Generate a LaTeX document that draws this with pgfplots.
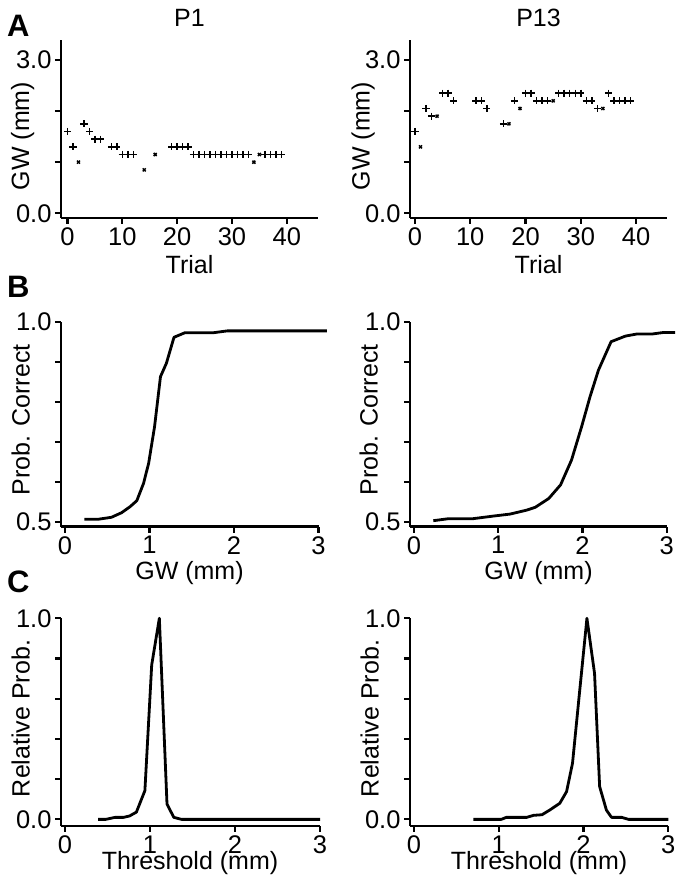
\documentclass[border=0pt]{standalone}
\usepackage{fontspec}
\setmainfont{Liberation Sans}
\usepackage{pgfplots}
\pgfplotsset{compat=1.18}
\newcommand{\fs}{\fontsize{25bp}{29bp}\selectfont}
\newcommand{\ft}{\fontsize{25.5bp}{29bp}\selectfont}
\newcommand{\fl}{\fontsize{31bp}{34bp}\selectfont\bfseries}
\pgfplotsset{
  myaxis/.style={
    scale only axis, clip=false,
    axis x line=bottom, axis y line=left,
    axis line style={line width=2.5bp, -, black},
    tick align=outside, major tick length=6bp,
    tick style={line width=2.2bp, black},
    tick label style={font=\ft},
    /pgf/number format/assume math mode=true,
  },
  corr/.style={only marks, mark=+, mark size=3.6bp, mark options={line width=1.5bp}, black},
  wrong/.style={only marks, mark=x, mark size=2.1bp, mark options={line width=1.5bp}, black},
  curve/.style={no marks, line width=2.8bp, black, line join=round},
  axA/.style={myaxis, width=257bp, height=178bp, ymin=-0.092, ymax=3.39,
    xtick={0,10,20,30,40}, ytick={0,1,2,3}, yticklabels={0.0,,,3.0}},
  axB/.style={myaxis, height=205bp, xmin=-0.047, xmax=3.0, ymin=0.4875, ymax=1.0,
    xtick={0,1,2,3}, ytick={0.5,0.6,0.7,0.8,0.9,1.0}, yticklabels={0.5,,,,,1.0}},
  axC/.style={myaxis, height=207.7bp, xmin=-0.047, xmax=3.0, ymin=-0.033, ymax=1.0,
    xtick={0,1,2,3}, ytick={0,0.2,0.4,0.6,0.8,1.0}, yticklabels={0.0,,,,,1.0}},
}
\begin{document}
\begin{tikzpicture}
\useasboundingbox (0,0) rectangle (683bp,886bp);

% ---------- Panel A left (P1)
\begin{axis}[axA, at={(61bp,668bp)}, anchor=south west, xmin=-1.19, xmax=45.7]
\addplot[corr] coordinates {
(0,1.6)(1,1.3)(3,1.75)(4,1.6)(5,1.45)(6,1.45)(8,1.3)(9,1.3)
(10,1.15)(11,1.15)(12,1.15)(19,1.3)(20,1.3)(21,1.3)(22,1.3)
(23,1.15)(24,1.15)(25,1.15)(26,1.15)(27,1.15)(28,1.15)(29,1.15)(30,1.15)(31,1.15)(32,1.15)(33,1.15)
(36,1.15)(37,1.15)(38,1.15)(39,1.15)};
\addplot[wrong] coordinates {(2,1.0)(14,0.85)(16,1.15)(34,1.0)(35,1.15)};
\end{axis}

% ---------- Panel A right (P13)
\begin{axis}[axA, at={(410bp,668bp)}, anchor=south west, xmin=-0.9, xmax=45.6]
\addplot[corr] coordinates {
(0,1.6)(2,2.05)(3,1.9)(5,2.35)(6,2.35)(7,2.2)(11,2.2)(12,2.2)(13,2.05)
(16,1.75)(18,2.2)(20,2.35)(21,2.35)(22,2.2)(23,2.2)(24,2.2)
(26,2.35)(27,2.35)(28,2.35)(29,2.35)(30,2.35)(31,2.2)(32,2.2)(33,2.05)
(35,2.35)(36,2.2)(37,2.2)(38,2.2)(39,2.2)};
\addplot[wrong] coordinates {(1,1.3)(4,1.9)(17,1.75)(19,2.05)(25,2.2)(34,2.05)};
\end{axis}

% ---------- Panel B left
\begin{axis}[axB, at={(61bp,359.3bp)}, anchor=south west, width=257.5bp]
\addplot[curve] coordinates {
(0.23,0.506)(0.39,0.506)(0.55,0.511)(0.67,0.5225)(0.77,0.5375)(0.85,0.5525)
(0.93,0.596)(0.99,0.646)(1.06,0.7375)(1.13,0.8625)(1.20,0.896)(1.29,0.961)
(1.42,0.9725)(1.76,0.9725)(1.92,0.977)(3.1,0.977)};
\end{axis}

% ---------- Panel B right
\begin{axis}[axB, at={(410bp,359.3bp)}, anchor=south west, width=256.7bp]
\addplot[curve] coordinates {
(0.23,0.5025)(0.41,0.5075)(0.70,0.5075)(0.94,0.514)(1.14,0.519)(1.34,0.529)
(1.44,0.536)(1.60,0.558)(1.74,0.592)(1.87,0.654)(1.99,0.7375)(2.09,0.8125)
(2.19,0.879)(2.34,0.95)(2.51,0.964)(2.64,0.969)(2.82,0.969)(2.96,0.973)(3.10,0.973)};
\end{axis}

% ---------- Panel C left
\begin{axis}[axC, at={(61bp,60bp)}, anchor=south west, width=259bp]
\addplot[curve] coordinates {
(0.39,0)(0.48,0)(0.59,0.01)(0.69,0.01)(0.76,0.017)(0.84,0.036)(0.94,0.143)
(1.02,0.768)(1.11,1.0)(1.20,0.076)(1.28,0.01)(1.37,0)(3.0,0)};
\end{axis}

% ---------- Panel C right
\begin{axis}[axC, at={(410bp,60bp)}, anchor=south west, width=258.3bp]
\addplot[curve] coordinates {
(0.70,0)(1.03,0)(1.09,0.01)(1.33,0.01)(1.41,0.02)(1.51,0.023)(1.60,0.046)
(1.72,0.08)(1.80,0.138)(1.87,0.279)(1.94,0.577)(2.04,1.0)(2.13,0.726)
(2.19,0.163)(2.27,0.046)(2.33,0.01)(2.45,0.01)(2.53,0)(3.0,0)};
\end{axis}

% ---------- titles, labels, panel letters
\node[anchor=base, font=\fs] at (189.5bp,859bp) {P1};
\node[anchor=base, font=\fs] at (538.5bp,859bp) {P13};
\node[anchor=base west, font=\fl, inner sep=0pt] at (7bp,849bp) {A};
\node[anchor=base west, font=\fl, inner sep=0pt] at (7bp,588bp) {B};
\node[anchor=base west, font=\fl, inner sep=0pt] at (7bp,293bp) {C};

\node[anchor=base, font=\fs] at (189.5bp,612bp) {Trial};
\node[anchor=base, font=\fs] at (538.5bp,612bp) {Trial};
\node[anchor=base, font=\fs] at (189.5bp,306bp) {GW (mm)};
\node[anchor=base, font=\fs] at (538.5bp,306bp) {GW (mm)};
\node[anchor=base, font=\fs] at (190bp,17bp) {Threshold (mm)};
\node[anchor=base, font=\fs] at (539bp,17bp) {Threshold (mm)};

\node[anchor=base, rotate=90, font=\fs] at (29bp,750bp) {GW (mm)};
\node[anchor=base, rotate=90, font=\fs] at (369.5bp,750bp) {GW (mm)};
\node[anchor=base, rotate=90, font=\fs] at (29.5bp,466bp) {Prob. Correct};
\node[anchor=base, rotate=90, font=\fs] at (377.5bp,466bp) {Prob. Correct};
\node[anchor=base, rotate=90, font=\fs] at (29.5bp,167.5bp) {Relative Prob.};
\node[anchor=base, rotate=90, font=\fs] at (378.5bp,167.5bp) {Relative Prob.};
\end{tikzpicture}
\end{document}
